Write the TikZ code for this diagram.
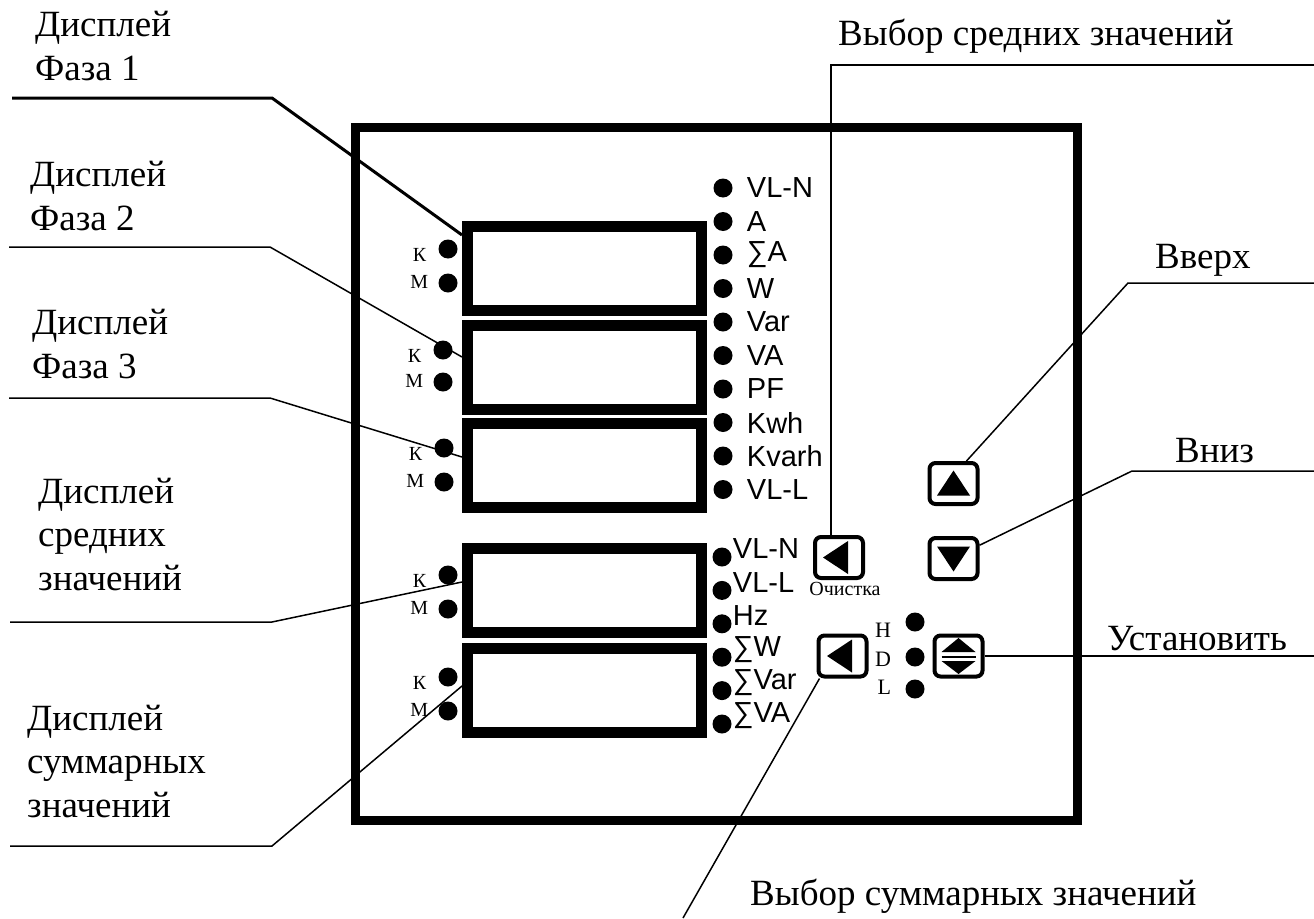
\documentclass[tikz,border=0pt]{standalone}
\usepackage{fontspec}
\setmainfont{Liberation Serif}
\newfontfamily\arialfont{Liberation Sans}
\usetikzlibrary{positioning}

\begin{document}
\begin{tikzpicture}[
    x=1pt, y=-1pt,
    panel/.style={draw, line width=9pt, minimum width=722pt, minimum height=693pt, inner sep=0pt},
    display/.style={draw, line width=11pt, minimum width=234pt, minimum height=84pt, inner sep=0pt},
    lamp/.style={circle, fill, inner sep=0pt, minimum size=19pt},
    btn/.style={draw, line width=4pt, rounded corners=6pt, minimum width=48pt, minimum height=41pt, inner sep=0pt},
    caption/.style={font=\fontsize{37}{43.5}\selectfont, inner sep=0pt, align=left, anchor=base west},
    tag/.style={font=\arialfont\fontsize{29}{33}\selectfont, inner sep=0pt, anchor=west},
    small/.style={font=\fontsize{20}{22}\selectfont, inner sep=0pt},
    lead/.style={line width=1.5pt}
]
    \useasboundingbox (0,0) rectangle (1314,918);

    % Panel
    \node[panel] (frame) at (716,473.5) {};

    % Displays
    \node[display] (d1) at (584.5,268.5) {};
    \node[display, below=4pt of d1] (d2) {};
    \node[display, below=3pt of d2] (d3) {};
    \node[display] (d4) at (584.5,590.5) {};
    \node[display, below=5pt of d4] (d5) {};

    % Indicator lamps, phase displays
    \foreach \name [count=\i from 0] in {VL-N,A,∑A,W,Var,VA,PF,Kwh,Kvarh,VL-L} {
        \node[lamp] (p\i) at (723,{188+33.5*\i}) {};
        \node[tag, right=14pt of p\i] (pt\i) {\name};
    }

    % Indicator lamps, average and sum displays
    \foreach \name [count=\i from 0] in {VL-N,VL-L,Hz,∑W,∑Var,∑VA} {
        \node[lamp] (s\i) at (722,{557+33.4*\i}) {};
        \node[tag] (st\i) at ([xshift=1pt,yshift=8pt]s\i.east) {\name};
    }

    % K / M lamps
    \foreach \d/\x/\ky/\my in {1/448/249/283, 2/443/350/382, 3/444/448/482, 4/448/575/609, 5/448/677/711} {
        \node[lamp] (k\d) at (\x,\ky) {};
        \node[lamp] (m\d) at (\x,\my) {};
        \node[small, left=12pt of k\d, yshift=-6pt] (kl\d) {К};
        \node[small, left=10pt of m\d, yshift=1pt] (ml\d) {М};
    }

    % Buttons
    \node[btn] (clr) at (839,557.5) {};
    \node[btn] (up) at (953.5,483.5) {};
    \node[btn] (down) at (953.5,558.5) {};
    \node[btn] (sum) at (842.5,656) {};
    \node[btn] (set) at (958.5,656) {};
    \fill ([shift={(-16,0)}]clr.center) -- ++(25,-16.5) -- ++(0,33) -- cycle;
    \fill ([shift={(-15.5,0)}]sum.center) -- ++(25,-16.5) -- ++(0,33) -- cycle;
    \fill ([shift={(0,-13)}]up.center) -- ++(16.5,25) -- ++(-33,0) -- cycle;
    \fill ([shift={(0,13)}]down.center) -- ++(16.5,-25) -- ++(-33,0) -- cycle;
    \fill ([shift={(0,-18)}]set.center) -- ++(17,14) -- ++(-34,0) -- cycle;
    \fill ([shift={(0,18)}]set.center) -- ++(17,-13) -- ++(-34,0) -- cycle;
    \draw[line width=2pt] ([shift={(-17,1)}]set.center) -- ++(34,0);
    \node[small, below=2pt of clr, xshift=6pt] (clrtag) {Очистка};

    % H / D / L lamps
    \node[lamp] (hl) at (915,622) {};
    \node[lamp] (dl) at (915,657) {};
    \node[lamp] (ll) at (915,689) {};
    \node[small, font=\fontsize{22}{24}\selectfont, left=14pt of hl, yshift=-8pt] (hlt) {H};
    \node[small, font=\fontsize{22}{24}\selectfont, left=14pt of dl, yshift=-2pt] (dlt) {D};
    \node[small, font=\fontsize{22}{24}\selectfont, left=14pt of ll, yshift=2pt] (llt) {L};

    % Captions (base = last line)
    \node[caption] (cap1) at (35,80) {Дисплей\\Фаза 1};
    \node[caption] (cap2) at (30,230) {Дисплей\\Фаза 2};
    \node[caption] (cap3) at (32,378) {Дисплей\\Фаза 3};
    \node[caption] (cap4) at (38,590) {Дисплей\\средних\\значений};
    \node[caption] (cap5) at (27,817) {Дисплей\\суммарных\\значений};
    \node[caption] (capavg) at (838,45) {Выбор средних значений};
    \node[caption] (capup) at (1155,268) {Вверх};
    \node[caption] (capdown) at (1175,462) {Вниз};
    \node[caption] (capset) at (1107,650) {Установить};
    \node[caption] (capsum) at (750,905) {Выбор суммарных значений};

    % Leaders, left
    \coordinate (f1) at (12,98);  \coordinate (b1) at (272,98);
    \coordinate (f2) at (9,247);  \coordinate (b2) at (270,247);
    \coordinate (f3) at (9,398);  \coordinate (b3) at (270,398);
    \coordinate (f4) at (10,622); \coordinate (b4) at (272,622);
    \coordinate (f5) at (10,846); \coordinate (b5) at (272,846);
    \draw[line width=3pt] (f1) -- (b1) -- ([yshift=-14pt]d1.north west);
    \draw[lead] (f2) -- (b2) -- ([yshift=-37pt]d2.north west);
    \draw[lead] (f3) -- (b3) -- ([yshift=-39pt]d3.north west);
    \draw[lead] (f4) -- (b4) -- ([yshift=-39pt]d4.north west);
    \draw[lead] (f5) -- (b5) -- ([yshift=-43pt]d5.north west);

    % Leaders, right
    \coordinate (favg) at (1314,65);  \coordinate (bavg) at (831,65);
    \coordinate (fup) at (1314,283);  \coordinate (bup) at (1128,283);
    \coordinate (fdown) at (1314,471); \coordinate (bdown) at (1132,471);
    \coordinate (fset) at (1314,656);
    \coordinate (fsum) at (683,918);
    \draw[lead] (favg) -- (bavg) -- (bavg |- clr.north);
    \draw[lead] (fup) -- (bup) -- (up.60);
    \draw[lead] (fdown) -- (bdown) -- (down.27);
    \draw[lead] (set.east) -- (fset);
    \draw[lead] ([xshift=3pt]sum.south west) -- (fsum);
\end{tikzpicture}
\end{document}
